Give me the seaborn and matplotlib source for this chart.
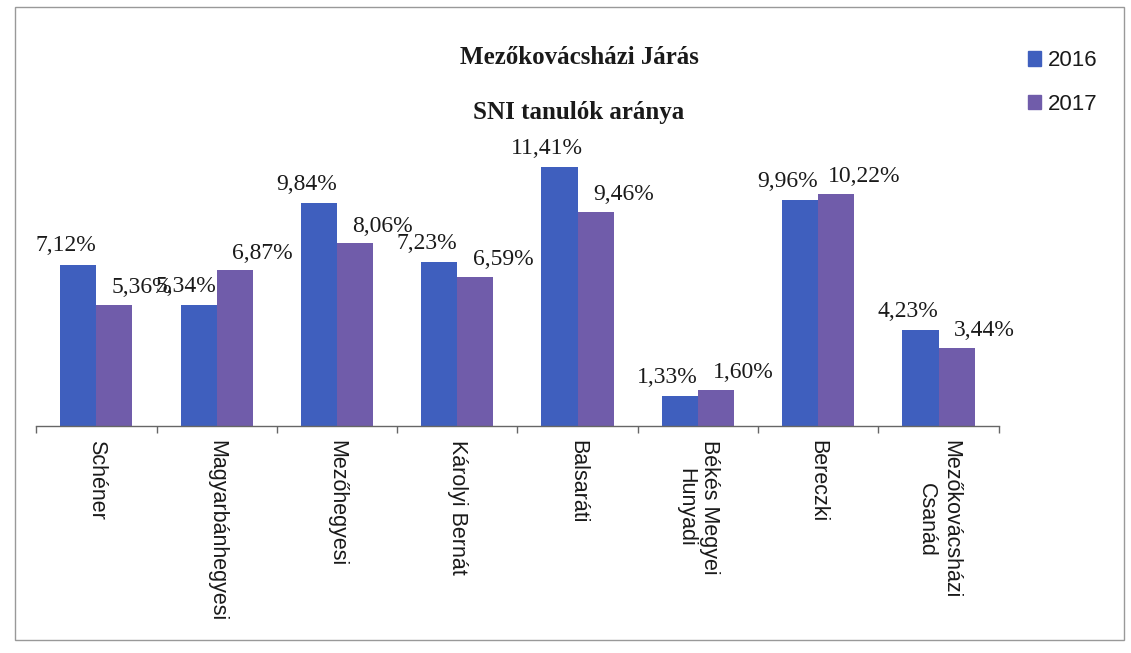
# %%
import pandas as pd
import numpy as np
import matplotlib
matplotlib.use('Agg')
from matplotlib import pyplot as plt
from matplotlib.patches import Patch, Rectangle
import seaborn as sns

# %%
# adatok
iskolak = ['Schéner', 'Magyarbánhegyesi', 'Mezőhegyesi', 'Károlyi Bernát', 'Balsaráti',
           'Békés Megyei\nHunyadi', 'Bereczki', 'Mezőkovácsházi\nCsanád']
arany_2016 = [7.12, 5.34, 9.84, 7.23, 11.41, 1.33, 9.96, 4.23]
arany_2017 = [5.36, 6.87, 8.06, 6.59, 9.46, 1.60, 10.22, 3.44]
evek = ['2016', '2017']

df = pd.DataFrame({'Iskola': iskolak * 2,
                   'Arany': arany_2016 + arany_2017,
                   'Ev': [evek[0]] * len(iskolak) + [evek[1]] * len(iskolak)})

# %%
sns.set_style('white')
plt.rcParams['font.family'] = ['Liberation Serif', 'DejaVu Serif']
plt.rcParams['text.color'] = '#1a1a1a'
szinek = ['#3F5FBE', '#705CAA']

fig = plt.figure(figsize=(11.31, 6.53), dpi=100)
ax = fig.add_axes([0.032, 0.347, 0.851, 0.438])
sns.barplot(data=df, x='Iskola', y='Arany', hue='Ev', palette=szinek, width=0.6,
            saturation=1, legend=False, linewidth=0, ax=ax)
ax.set_xlim(-0.5, len(iskolak) - 0.5)
ax.set_ylim(0, 12.6)

# adatcimkek (Excel-szeru eltolas)
eltolas = {'2016': (-9, 6), '2017': (20, 5)}
for cont, ev in zip(ax.containers, evek):
    for bar in cont:
        v = bar.get_height()
        ax.annotate(f'{v:.2f}%'.replace('.', ','),
                    (bar.get_x() + bar.get_width() / 2, v),
                    xytext=eltolas[ev], textcoords='offset points',
                    ha='center', va='bottom', fontsize=17, color='#1a1a1a')

# tengelyek
ax.set_xticks(range(len(iskolak)))
ax.set_xticklabels(iskolak, rotation=270, fontsize=15.5, va='top', ha='center',
                   family=['Liberation Sans', 'DejaVu Sans'], color='#1a1a1a')
ax.set_xticks(np.arange(-0.5, len(iskolak)), minor=True)
ax.tick_params(axis='x', which='major', length=0, pad=10)
ax.tick_params(axis='x', which='minor', length=5, width=1, color='#666666', bottom=True)
ax.set_yticks([])
ax.set_xlabel('')
ax.set_ylabel('')
for s in ['left', 'right', 'top']:
    ax.spines[s].set_visible(False)
ax.spines['bottom'].set_color('#666666')
ax.spines['bottom'].set_linewidth(1)

# cim
fig.text(0.512, 1 - 57 / 653, 'Mezőkovácsházi Járás', ha='center', va='center',
         fontsize=18, fontweight='bold')
fig.text(0.512, 1 - 112 / 653, 'SNI tanulók aránya', ha='center', va='center',
         fontsize=18, fontweight='bold')

# jelmagyarazat
fig.legend(handles=[Patch(color=c, label=l) for c, l in zip(szinek, evek)],
           loc='upper left', bbox_to_anchor=(0.899, 0.94), frameon=False,
           prop={'family': ['Liberation Sans', 'DejaVu Sans'], 'size': 16},
           handlelength=0.6, handleheight=0.6, handletextpad=0.3,
           labelspacing=1.0, borderpad=0)

# keret
fig.add_artist(Rectangle((15 / 1131, 13 / 653), 1109 / 1131, 633 / 653,
                         transform=fig.transFigure, fill=False,
                         edgecolor='#999999', linewidth=1))

plt.savefig('out.png', dpi=100)
